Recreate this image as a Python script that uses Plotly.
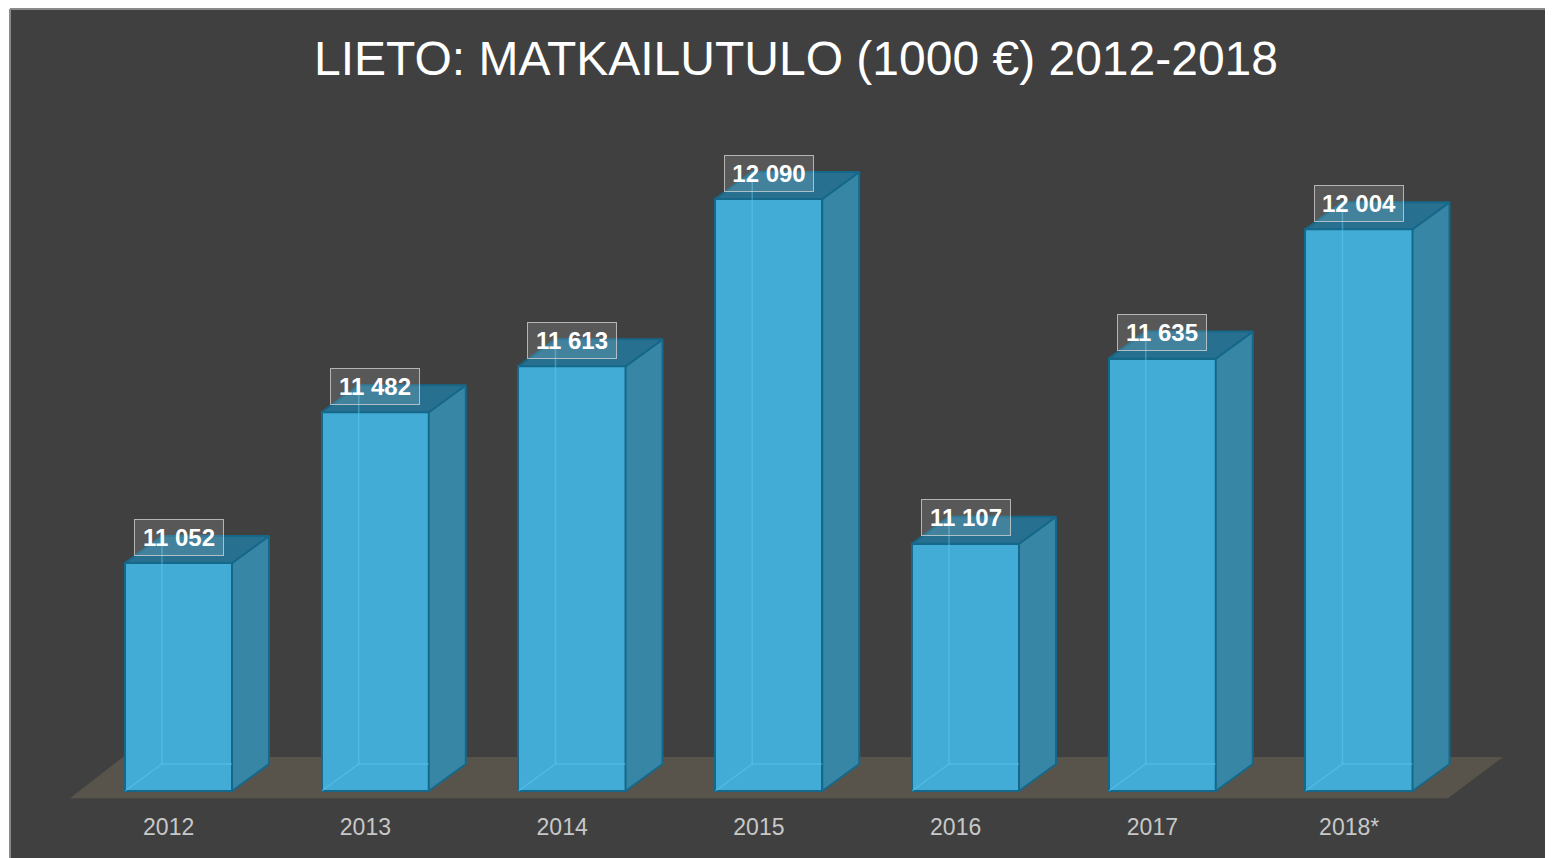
import plotly.graph_objects as go

# ---- data ----
years = ["2012", "2013", "2014", "2015", "2016", "2017", "2018*"]
revenue = [11052, 11482, 11613, 12090, 11107, 11635, 12004]  # 1000 €

title_text = "LIETO: MATKAILUTULO (1000 €) 2012-2018"

# ---- geometry / style (pseudo-3D) ----
BASE = 10402          # value at the front bottom of the bars
BAR_W = 0.544         # bar width in category units
DX = 0.188            # depth offset, category units
DY = 77               # depth offset, value units
FRONT = "#42acd6"
SIDE = "#3786a6"
TOP = "rgba(38,118,152,0.9)"
EDGE = "#16688a"
HIDDEN = "rgba(95,205,245,0.45)"
FLOOR = "#58544c"
BG = "#404040"

# page has an 8px body margin; figure is sized to fill the rest of the window
W, H = 1545, 850
ML, MR, MT, MB = 2, 0, 1, 58

x_range = [-0.8564, 6.986]
y_range = [10376.3, 12632.0]

fig = go.Figure()

idx = list(range(len(years)))

# front faces
fig.add_trace(go.Bar(
    x=idx, y=[v - BASE for v in revenue], base=BASE, width=BAR_W,
    marker=dict(color=FRONT, line=dict(color=EDGE, width=2)),
    hoverinfo="skip", showlegend=False,
))

# side + top faces and hidden edges
for i, v in zip(idx, revenue):
    xl, xr = i - BAR_W / 2, i + BAR_W / 2
    fig.add_trace(go.Scatter(
        x=[xr, xr + DX, xr + DX, xr, xr],
        y=[BASE, BASE + DY, v + DY, v, BASE],
        fill="toself", fillcolor=SIDE, mode="lines",
        line=dict(color=EDGE, width=2), hoverinfo="skip", showlegend=False,
    ))
    fig.add_trace(go.Scatter(
        x=[xl, xl + DX, xr + DX, xr, xl],
        y=[v, v + DY, v + DY, v, v],
        fill="toself", fillcolor=TOP, mode="lines",
        line=dict(color=EDGE, width=2), hoverinfo="skip", showlegend=False,
    ))
    fig.add_trace(go.Scatter(
        x=[xl, xl + DX, xr, None, xl + DX, xl + DX],
        y=[BASE, BASE + DY, BASE + DY, None, BASE + DY, v + DY],
        mode="lines", line=dict(color=HIDDEN, width=1.5),
        hoverinfo="skip", showlegend=False,
    ))

# value labels
for i, v in zip(idx, revenue):
    fig.add_annotation(
        x=i, y=v, yshift=26, xref="x", yref="y",
        text=f"<b>{v:,}</b>".replace(",", " "),
        showarrow=False, yanchor="middle", xanchor="center",
        font=dict(family="Liberation Sans, Arial, sans-serif", size=24, color="white"),
        bgcolor="rgba(255,255,255,0.13)", bordercolor="rgba(215,215,215,0.75)",
        borderwidth=1, borderpad=4, width=80, height=27,
    )

# floor
floor_front_y = BASE - 21
floor_back_y = BASE + 97
fig.add_shape(
    type="path", xref="x", yref="y", layer="below",
    path=(f"M {-0.5515} {floor_front_y} L {6.452} {floor_front_y} "
          f"L {6.732} {floor_back_y} L {-0.282} {floor_back_y} Z"),
    fillcolor=FLOOR, line=dict(width=0),
)

# white outer strips + thin grey border of the slide area
pw = W - ML - MR
ph = H - MT - MB
fig.add_shape(type="rect", xref="paper", yref="paper", layer="above",
              x0=-ML / pw, x1=0, y0=-MB / ph, y1=1 + MT / ph,
              fillcolor="white", line=dict(width=0))
fig.add_shape(type="rect", xref="paper", yref="paper", layer="above",
              x0=-ML / pw, x1=1, y0=1, y1=1 + MT / ph,
              fillcolor="white", line=dict(width=0))
fig.add_shape(type="line", xref="paper", yref="paper", layer="above",
              x0=0, x1=1, y0=1, y1=1, line=dict(color="#8a8a8a", width=2))
fig.add_shape(type="line", xref="paper", yref="paper", layer="above",
              x0=0, x1=0, y0=-MB / ph, y1=1, line=dict(color="#8a8a8a", width=2))

fig.update_layout(
    width=W, height=H,
    margin=dict(l=ML, r=MR, t=MT, b=MB, pad=0),
    paper_bgcolor=BG, plot_bgcolor=BG,
    title=dict(text=title_text, x=(788 - ML) / pw, xref="paper", xanchor="center",
               y=1 - 50 / H, yref="container", yanchor="middle",
               font=dict(family="Liberation Sans, Arial, sans-serif", size=48, color="white")),
    xaxis=dict(range=x_range, tickvals=[i - 0.05 for i in idx], ticktext=years,
               showgrid=False, zeroline=False, showline=False,
               ticks="outside", ticklen=6, tickcolor="rgba(0,0,0,0)",
               tickfont=dict(family="Liberation Sans, Arial, sans-serif", size=23, color="#c8c8c8"),
               fixedrange=True),
    yaxis=dict(range=y_range, visible=False, showgrid=False, zeroline=False, fixedrange=True),
    bargap=0,
    showlegend=False,
)

fig.write_html("out.html")
